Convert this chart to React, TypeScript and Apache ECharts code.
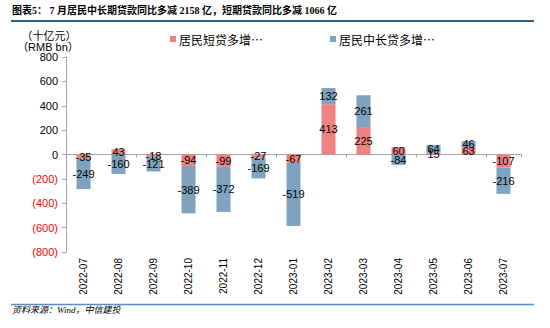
import React, { useEffect, useRef } from "react";
import * as echarts from "echarts";

const categories = [
  "2022-07", "2022-08", "2022-09", "2022-10", "2022-11", "2022-12",
  "2023-01", "2023-02", "2023-03", "2023-04", "2023-05", "2023-06", "2023-07",
];
const shortLoans = [-35, 43, -18, -94, -99, -27, -67, 413, 225, 60, 15, 63, -107];
const longLoans = [-249, -160, -121, -389, -372, -169, -519, 132, 261, -84, 64, 46, -216];
const shortName = "居民短贷多增…";
const longName = "居民中长贷多增…";
const titleText = "图表5： 7 月居民中长期贷款同比多减 2158 亿，短期贷款同比多减 1066 亿";
const sourceText = "资料来源：Wind，中信建投";
const unitCn = "（十亿元）";
const unitEn = "（RMB bn）";

const SANS = "'Liberation Sans', Arial, 'Noto Sans CJK SC', sans-serif";
const RED = "#F08181";
const BLUE = "#7EA3C0";

export default function App() {
  const ref = useRef<HTMLDivElement>(null);
  useEffect(() => {
    if (!ref.current) return;
    const chart = echarts.init(ref.current, null, { renderer: "svg" });
    const barLabel = {
      show: true,
      position: "inside",
      color: "#000",
      fontSize: 11,
      fontFamily: SANS,
    };
    chart.setOption({
      animation: false,
      backgroundColor: "#fff",
      textStyle: { fontFamily: SANS },
      grid: { left: 66, right: 29, top: 57, bottom: 76 },
      legend: [
        {
          data: [shortName],
          left: 165,
          top: 28,
          icon: "rect",
          itemWidth: 6,
          itemHeight: 6,
          itemGap: 3,
          textStyle: { fontSize: 12, color: "#000", fontFamily: "'Noto Sans CJK SC', sans-serif", padding: [0, 0, 0, -2] },
        },
        {
          data: [longName],
          left: 325,
          top: 28,
          icon: "rect",
          itemWidth: 6,
          itemHeight: 6,
          itemGap: 3,
          textStyle: { fontSize: 12, color: "#000", fontFamily: "'Noto Sans CJK SC', sans-serif", padding: [0, 0, 0, -2] },
        },
      ],
      xAxis: [
        {
          type: "category",
          data: categories,
          axisLine: { onZero: true, lineStyle: { color: "#A6A6A6", width: 1 } },
          axisTick: { show: true, length: 3, lineStyle: { color: "#A6A6A6" } },
          axisLabel: { show: false },
        },
        {
          type: "category",
          data: categories,
          position: "bottom",
          axisLine: { show: false, onZero: false },
          axisTick: { show: false },
          axisLabel: {
            rotate: 90,
            fontSize: 10,
            color: "#000",
            margin: 6,
            fontFamily: SANS,
          },
        },
      ],
      yAxis: {
        type: "value",
        min: -800,
        max: 800,
        interval: 200,
        splitLine: { show: false },
        axisLine: { show: true, lineStyle: { color: "#A6A6A6" } },
        axisTick: { show: true, length: 4, lineStyle: { color: "#A6A6A6" } },
        axisLabel: {
          fontSize: 11,
          margin: 8,
          fontFamily: SANS,
          formatter: (v: number) => (v < 0 ? `(${-v})` : `${v}`),
          color: (v: any) => (Number(v) < 0 ? "#FF0000" : "#000"),
        },
      },
      series: [
        {
          name: shortName,
          type: "bar",
          stack: "total",
          xAxisIndex: 0,
          barWidth: 14,
          data: shortLoans,
          itemStyle: { color: RED },
          label: barLabel,
        },
        {
          name: longName,
          type: "bar",
          stack: "total",
          xAxisIndex: 0,
          barWidth: 14,
          data: longLoans,
          itemStyle: { color: BLUE },
          label: barLabel,
        },
      ],
      graphic: [
        {
          type: "text",
          left: 12,
          top: 5,
          style: {
            text: titleText,
            fontSize: 10,
            fontWeight: "bold",
            fill: "#000",
            fontFamily: "'Liberation Serif', 'Noto Sans CJK SC', serif",
          },
        },
        {
          type: "line",
          shape: { x1: 11, y1: 21, x2: 534, y2: 21 },
          style: { stroke: "#2E5E8E", lineWidth: 2 },
        },
        {
          type: "text",
          x: 49,
          y: 35,
          style: {
            text: unitCn,
            fontSize: 11,
            fill: "#000",
            align: "center",
            verticalAlign: "middle",
            fontFamily: "'Noto Sans CJK SC', sans-serif",
          },
        },
        {
          type: "text",
          x: 48,
          y: 47,
          style: {
            text: unitEn,
            fontSize: 11,
            fill: "#000",
            align: "center",
            verticalAlign: "middle",
            fontFamily: SANS,
          },
        },
        {
          type: "line",
          shape: { x1: 11, y1: 304.5, x2: 534, y2: 304.5 },
          style: { stroke: "#5B8CC0", lineWidth: 1.5 },
        },
        {
          type: "text",
          left: 12,
          top: 305,
          style: {
            text: sourceText,
            fontSize: 9,
            fontStyle: "italic",
            fill: "#000",
            fontFamily: "'Liberation Serif', 'Noto Sans CJK SC', serif",
          },
        },
      ],
    });
    return () => chart.dispose();
  }, []);
  return (
    <div
      ref={ref}
      style={{ position: "fixed", left: 0, top: 0, width: 550, height: 328, background: "#fff" }}
    />
  );
}
